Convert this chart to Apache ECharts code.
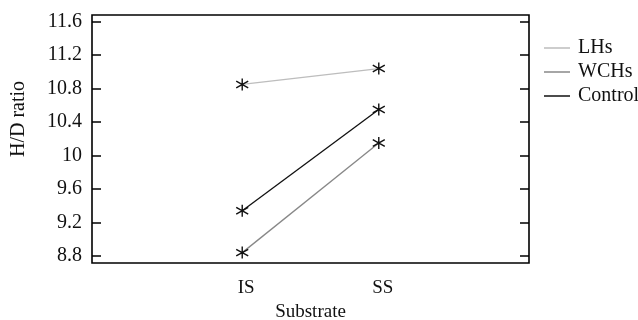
<!DOCTYPE html>
<html>
<head>
<meta charset="utf-8">
<script src="https://cdn.jsdelivr.net/npm/echarts@6/dist/echarts.min.js"></script>
<style>
  html, body { margin: 0; padding: 0; background: #fff; }
  #chart { width: 638px; height: 320px; }
</style>
</head>
<body>
<div id="chart"></div>
<script>
// data
const categories = ["IS", "SS"];
const seriesNames = ["LHs", "WCHs", "Control"];
const lhs = [10.85, 11.04];
const wchs = [8.84, 10.15];
const control = [9.34, 10.55];
const yTicks = [8.8, 9.2, 9.6, 10, 10.4, 10.8, 11.2, 11.6];

const font = "Liberation Serif";
const lineColors = ["#bdbdbd", "#888888", "#111111"];
const asterisk = "path://M50 0 L50 100 M8 22 L92 78 M8 78 L92 22";

function toPoints(values) {
  return values.map((v, i) => [i + 1, v]);
}

const chart = echarts.init(document.getElementById("chart"));

const series = [lhs, wchs, control].map((values, i) => ({
  name: seriesNames[i],
  type: "line",
  data: toPoints(values),
  symbol: asterisk,
  symbolSize: 12,
  itemStyle: { color: "transparent", borderColor: "#111", borderWidth: 1.4 },
  lineStyle: { color: lineColors[i], width: 1.3 },
  emphasis: { disabled: true },
  z: 3 - i,
}));

const tickStyle = { color: "#000", width: 1.5 };

chart.setOption({
  animation: false,
  grid: {
    left: 92, right: 109, top: 15, bottom: 57,
    containLabel: false,
    outerBoundsMode: "none",
    show: true, borderColor: "#000", borderWidth: 1.6,
  },
  legend: {
    orient: "vertical",
    left: 539,
    top: 33,
    icon: "rect",
    itemWidth: 26,
    itemHeight: 1.5,
    itemGap: 4,
    textStyle: { fontFamily: font, fontSize: 20, color: "#111", padding: [0, 0, 0, 3] },
    data: seriesNames.map((n, i) => ({
      name: n,
      itemStyle: { color: lineColors[i], borderWidth: 0 },
    })),
  },
  xAxis: {
    type: "value",
    min: -0.1,
    max: 3.1,
    name: "Substrate",
    nameLocation: "middle",
    nameGap: 40,
    nameTextStyle: { fontFamily: font, fontSize: 19, color: "#111" },
    axisLine: { show: false, onZero: false },
    axisTick: { show: false },
    splitLine: { show: false },
    axisLabel: {
      customValues: [1, 2],
      formatter: (v) => categories[Math.round(v) - 1] || "",
      fontFamily: font, fontSize: 19, color: "#111",
      margin: 16,
      padding: [0, 0, 0, 8],
    },
  },
  yAxis: [
    {
      type: "value",
      min: 8.716,
      max: 11.68,
      name: "H/D ratio",
      nameLocation: "middle",
      nameGap: 63,
      nameTextStyle: { fontFamily: font, fontSize: 20, color: "#111", padding: [0, 0, 0, 40] },
      axisLine: { show: false, onZero: false },
      splitLine: { show: false },
      axisTick: { inside: true, length: 9, customValues: yTicks, lineStyle: tickStyle },
      axisLabel: {
        customValues: yTicks,
        fontFamily: font, fontSize: 20, color: "#111",
        margin: 10,
      },
    },
    {
      type: "value",
      position: "right",
      min: 8.716,
      max: 11.68,
      axisLine: { show: false, onZero: false },
      splitLine: { show: false },
      axisTick: { inside: true, length: 9, customValues: yTicks, lineStyle: tickStyle },
      axisLabel: { show: false },
    },
  ],
  series: series,
});
</script>
</body>
</html>
